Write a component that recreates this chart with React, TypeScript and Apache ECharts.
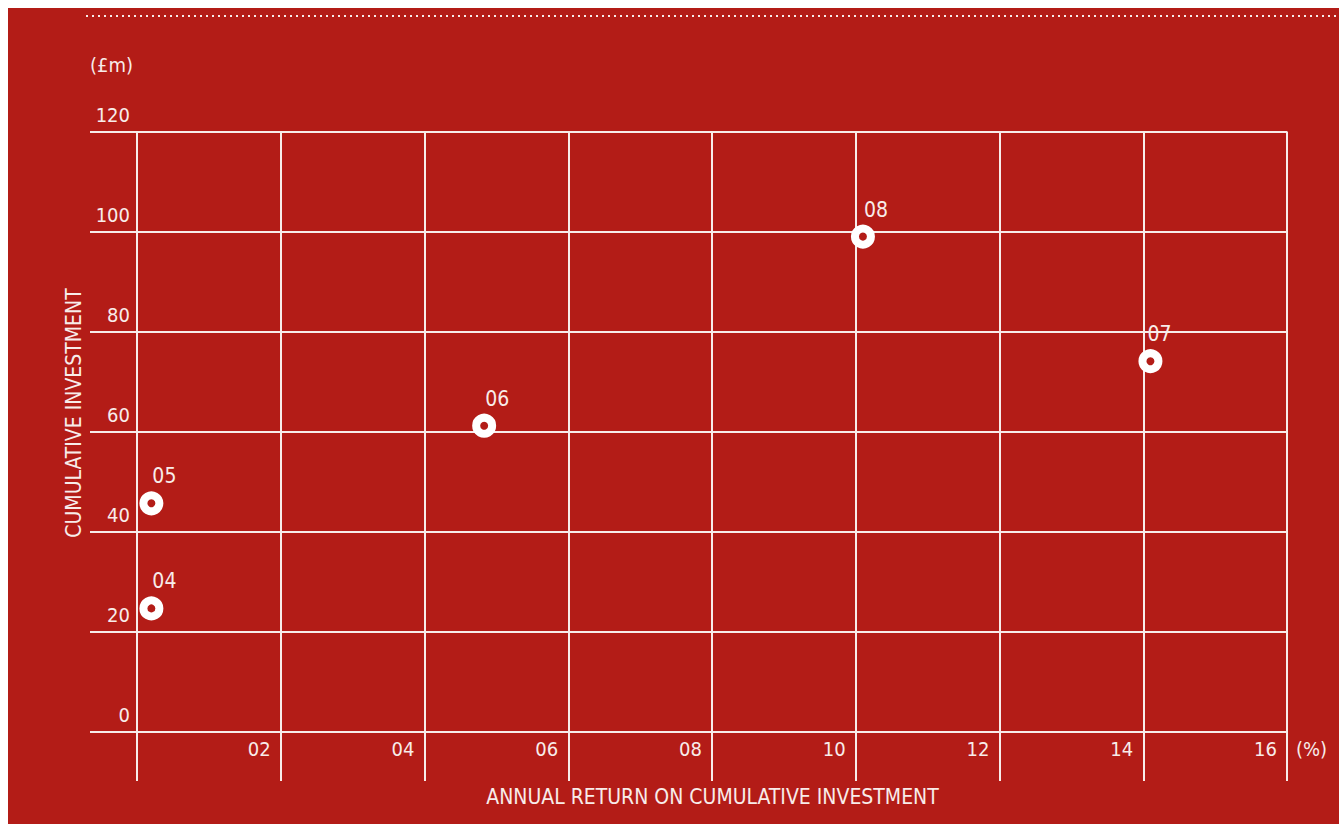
import React, { useEffect, useRef } from "react";
import * as echarts from "echarts";

const pointLabels = ["04", "05", "06", "07", "08"];
const annualReturn = [0.2, 0.2, 4.83, 14.1, 10.1];
const cumulativeInvestment = [24.7, 45.7, 61.2, 74.1, 99.0];
const labelOffsetX = [13, 13, 13, 9, 13];
const xTickLabels = ["", "02", "04", "06", "08", "10", "12", "14", "16"];
const yTickLabels = ["0", "20", "40", "60", "80", "100", "120"];
const xTitle = "ANNUAL RETURN ON CUMULATIVE INVESTMENT";
const yTitle = "CUMULATIVE INVESTMENT";
const yUnit = "(£m)";
const xUnit = "(%)";

const RED = "#b31c17";
const LINE = "#f8ecea";
const FONT = "'DejaVu Sans Condensed', 'DejaVu Sans', sans-serif";

export default function App() {
  const ref = useRef<HTMLDivElement>(null);
  useEffect(() => {
    if (!ref.current) return;
    const chart = echarts.init(ref.current, undefined, { renderer: "svg" });
    const data = annualReturn.map((x, i) => ({
      value: [x, cumulativeInvestment[i]],
      name: pointLabels[i],
      label: { offset: [labelOffsetX[i], 0] },
    }));
    chart.setOption({
      animation: false,
      backgroundColor: RED,
      textStyle: { fontFamily: FONT },
      grid: { left: 129, right: 52, top: 123.5, bottom: 92, containLabel: false },
      xAxis: {
        type: "value",
        min: 0,
        max: 16,
        interval: 2,
        axisLine: { show: false },
        axisTick: { show: true, length: 49, lineStyle: { color: LINE, width: 2 } },
        splitLine: { show: true, lineStyle: { color: LINE, width: 2 } },
        axisLabel: {
          color: LINE,
          fontFamily: FONT,
          fontSize: 20,
          lineHeight: 20,
          margin: 7,
          align: "right",
          verticalAlign: "top",
          padding: [0, 10, 0, 0],
          formatter: (v: number) => xTickLabels[Math.round(v / 2)] ?? "",
        },
      },
      yAxis: {
        type: "value",
        min: 0,
        max: 120,
        interval: 20,
        axisLine: { show: false },
        axisTick: { show: true, length: 47, lineStyle: { color: LINE, width: 2 } },
        splitLine: { show: true, lineStyle: { color: LINE, width: 2 } },
        axisLabel: {
          color: LINE,
          fontFamily: FONT,
          fontSize: 20,
          lineHeight: 34,
          margin: 7,
          align: "right",
          verticalAlign: "bottom",
          formatter: (v: number) => yTickLabels[Math.round(v / 20)] ?? "",
        },
      },
      graphic: [
        {
          type: "line",
          shape: { x1: 78, y1: 8, x2: 1331, y2: 8 },
          style: { stroke: LINE, lineWidth: 2, lineDash: [2, 4] },
        },
        {
          type: "text",
          x: 82,
          y: 57,
          style: { text: yUnit, fill: LINE, font: `20px ${FONT}`, verticalAlign: "middle", align: "left" },
        },
        {
          type: "text",
          x: 1288,
          y: 741,
          style: { text: xUnit, fill: LINE, font: `20px ${FONT}`, verticalAlign: "middle", align: "left" },
        },
        {
          type: "text",
          x: 704.5,
          y: 789,
          style: { text: xTitle, fill: LINE, font: `21px ${FONT}`, verticalAlign: "middle", align: "center" },
        },
        {
          type: "text",
          x: 66,
          y: 405,
          rotation: Math.PI / 2,
          style: { text: yTitle, fill: LINE, font: `21px ${FONT}`, verticalAlign: "middle", align: "center" },
        },
      ],
      series: [
        {
          type: "scatter",
          data,
          symbol: "circle",
          symbolSize: 16,
          itemStyle: { color: RED, borderColor: "#ffffff", borderWidth: 8, opacity: 1 },
          label: {
            show: true,
            position: "top",
            distance: 5,
            color: LINE,
            fontFamily: FONT,
            fontSize: 21,
            lineHeight: 20,
            formatter: (p: any) => p.name,
          },
          emphasis: { disabled: true },
          z: 5,
        },
      ],
    });
    return () => chart.dispose();
  }, []);
  return (
    <div
      ref={ref}
      style={{ position: "fixed", left: 8, top: 8, width: 1331, height: 816 }}
    />
  );
}
